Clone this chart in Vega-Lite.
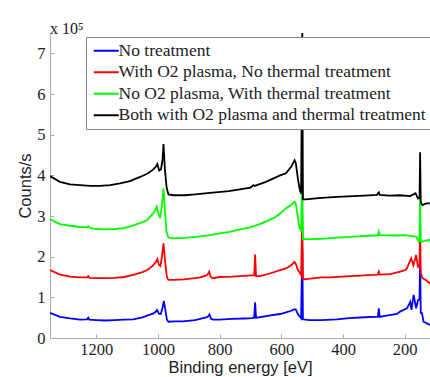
{
  "$schema": "https://vega.github.io/schema/vega-lite/v6.json",
  "width": 380,
  "height": 305,
  "autosize": {"type": "none"},
  "padding": {"left": 50, "top": 33, "right": 0, "bottom": 39},
  "background": "white",
  "title": {"text": "x 10⁵", "anchor": "start", "frame": "group", "offset": -4, "font": "Liberation Serif", "fontSize": 16, "fontWeight": "normal", "color": "#222"},
  "data": {"values": [
    {"sample":"No treatment","energy":1350,"counts":0.62},{"sample":"No treatment","energy":1318,"counts":0.52},{"sample":"No treatment","energy":1285,"counts":0.48},{"sample":"No treatment","energy":1253,"counts":0.45},{"sample":"No treatment","energy":1230,"counts":0.46},{"sample":"No treatment","energy":1226,"counts":0.50},{"sample":"No treatment","energy":1222,"counts":0.45},{"sample":"No treatment","energy":1200,"counts":0.44},{"sample":"No treatment","energy":1170,"counts":0.43},{"sample":"No treatment","energy":1140,"counts":0.44},{"sample":"No treatment","energy":1110,"counts":0.45},{"sample":"No treatment","energy":1080,"counts":0.46},{"sample":"No treatment","energy":1050,"counts":0.51},{"sample":"No treatment","energy":1035,"counts":0.55},{"sample":"No treatment","energy":1016,"counts":0.60},{"sample":"No treatment","energy":1008,"counts":0.64},{"sample":"No treatment","energy":1003,"counts":0.69},{"sample":"No treatment","energy":997,"counts":0.60},{"sample":"No treatment","energy":991,"counts":0.59},{"sample":"No treatment","energy":986,"counts":0.72},{"sample":"No treatment","energy":981,"counts":0.91},{"sample":"No treatment","energy":976,"counts":0.70},{"sample":"No treatment","energy":971,"counts":0.45},{"sample":"No treatment","energy":966,"counts":0.40},{"sample":"No treatment","energy":945,"counts":0.41},{"sample":"No treatment","energy":919,"counts":0.41},{"sample":"No treatment","energy":880,"counts":0.44},{"sample":"No treatment","energy":863,"counts":0.47},{"sample":"No treatment","energy":854,"counts":0.49},{"sample":"No treatment","energy":845,"counts":0.50},{"sample":"No treatment","energy":838,"counts":0.53},{"sample":"No treatment","energy":833,"counts":0.58},{"sample":"No treatment","energy":828,"counts":0.47},{"sample":"No treatment","energy":821,"counts":0.45},{"sample":"No treatment","energy":800,"counts":0.45},{"sample":"No treatment","energy":760,"counts":0.47},{"sample":"No treatment","energy":720,"counts":0.48},{"sample":"No treatment","energy":695,"counts":0.49},{"sample":"No treatment","energy":688,"counts":0.50},{"sample":"No treatment","energy":685,"counts":0.88},{"sample":"No treatment","energy":682,"counts":0.50},{"sample":"No treatment","energy":670,"counts":0.51},{"sample":"No treatment","energy":640,"counts":0.55},{"sample":"No treatment","energy":604,"counts":0.59},{"sample":"No treatment","energy":585,"counts":0.63},{"sample":"No treatment","energy":568,"counts":0.67},{"sample":"No treatment","energy":557,"counts":0.71},{"sample":"No treatment","energy":553,"counts":0.70},{"sample":"No treatment","energy":546,"counts":0.58},{"sample":"No treatment","energy":536,"counts":0.48},{"sample":"No treatment","energy":532,"counts":2.2},{"sample":"No treatment","energy":530,"counts":0.46},{"sample":"No treatment","energy":510,"counts":0.44},{"sample":"No treatment","energy":470,"counts":0.44},{"sample":"No treatment","energy":420,"counts":0.46},{"sample":"No treatment","energy":380,"counts":0.49},{"sample":"No treatment","energy":330,"counts":0.51},{"sample":"No treatment","energy":300,"counts":0.52},{"sample":"No treatment","energy":287,"counts":0.52},{"sample":"No treatment","energy":284,"counts":0.73},{"sample":"No treatment","energy":281,"counts":0.52},{"sample":"No treatment","energy":250,"counts":0.56},{"sample":"No treatment","energy":225,"counts":0.59},{"sample":"No treatment","energy":215,"counts":0.65},{"sample":"No treatment","energy":193,"counts":0.73},{"sample":"No treatment","energy":182,"counts":0.89},{"sample":"No treatment","energy":178,"counts":0.69},{"sample":"No treatment","energy":171,"counts":1.06},{"sample":"No treatment","energy":163,"counts":0.73},{"sample":"No treatment","energy":157,"counts":0.93},{"sample":"No treatment","energy":152,"counts":0.95},{"sample":"No treatment","energy":150,"counts":2.0},{"sample":"No treatment","energy":148,"counts":0.62},{"sample":"No treatment","energy":144,"counts":0.61},{"sample":"No treatment","energy":139,"counts":0.40},{"sample":"No treatment","energy":128,"counts":0.36},{"sample":"No treatment","energy":118,"counts":0.32},

    {"sample":"With O2 plasma, No thermal treatment","energy":1350,"counts":1.67},{"sample":"With O2 plasma, No thermal treatment","energy":1318,"counts":1.56},{"sample":"With O2 plasma, No thermal treatment","energy":1285,"counts":1.51},{"sample":"With O2 plasma, No thermal treatment","energy":1253,"counts":1.49},{"sample":"With O2 plasma, No thermal treatment","energy":1230,"counts":1.49},{"sample":"With O2 plasma, No thermal treatment","energy":1226,"counts":1.52},{"sample":"With O2 plasma, No thermal treatment","energy":1222,"counts":1.48},{"sample":"With O2 plasma, No thermal treatment","energy":1200,"counts":1.47},{"sample":"With O2 plasma, No thermal treatment","energy":1170,"counts":1.47},{"sample":"With O2 plasma, No thermal treatment","energy":1140,"counts":1.48},{"sample":"With O2 plasma, No thermal treatment","energy":1110,"counts":1.50},{"sample":"With O2 plasma, No thermal treatment","energy":1080,"counts":1.55},{"sample":"With O2 plasma, No thermal treatment","energy":1050,"counts":1.62},{"sample":"With O2 plasma, No thermal treatment","energy":1035,"counts":1.67},{"sample":"With O2 plasma, No thermal treatment","energy":1016,"counts":1.78},{"sample":"With O2 plasma, No thermal treatment","energy":1006,"counts":1.88},{"sample":"With O2 plasma, No thermal treatment","energy":1002,"counts":1.94},{"sample":"With O2 plasma, No thermal treatment","energy":997,"counts":1.80},{"sample":"With O2 plasma, No thermal treatment","energy":992,"counts":1.77},{"sample":"With O2 plasma, No thermal treatment","energy":987,"counts":2.0},{"sample":"With O2 plasma, No thermal treatment","energy":982,"counts":2.33},{"sample":"With O2 plasma, No thermal treatment","energy":977,"counts":1.9},{"sample":"With O2 plasma, No thermal treatment","energy":971,"counts":1.5},{"sample":"With O2 plasma, No thermal treatment","energy":966,"counts":1.43},{"sample":"With O2 plasma, No thermal treatment","energy":945,"counts":1.43},{"sample":"With O2 plasma, No thermal treatment","energy":915,"counts":1.44},{"sample":"With O2 plasma, No thermal treatment","energy":880,"counts":1.47},{"sample":"With O2 plasma, No thermal treatment","energy":863,"counts":1.49},{"sample":"With O2 plasma, No thermal treatment","energy":850,"counts":1.52},{"sample":"With O2 plasma, No thermal treatment","energy":840,"counts":1.55},{"sample":"With O2 plasma, No thermal treatment","energy":834,"counts":1.63},{"sample":"With O2 plasma, No thermal treatment","energy":829,"counts":1.50},{"sample":"With O2 plasma, No thermal treatment","energy":822,"counts":1.47},{"sample":"With O2 plasma, No thermal treatment","energy":800,"counts":1.50},{"sample":"With O2 plasma, No thermal treatment","energy":760,"counts":1.51},{"sample":"With O2 plasma, No thermal treatment","energy":720,"counts":1.53},{"sample":"With O2 plasma, No thermal treatment","energy":700,"counts":1.54},{"sample":"With O2 plasma, No thermal treatment","energy":688,"counts":1.54},{"sample":"With O2 plasma, No thermal treatment","energy":685,"counts":2.06},{"sample":"With O2 plasma, No thermal treatment","energy":682,"counts":1.52},{"sample":"With O2 plasma, No thermal treatment","energy":670,"counts":1.52},{"sample":"With O2 plasma, No thermal treatment","energy":640,"counts":1.58},{"sample":"With O2 plasma, No thermal treatment","energy":604,"counts":1.67},{"sample":"With O2 plasma, No thermal treatment","energy":585,"counts":1.71},{"sample":"With O2 plasma, No thermal treatment","energy":568,"counts":1.79},{"sample":"With O2 plasma, No thermal treatment","energy":557,"counts":1.87},{"sample":"With O2 plasma, No thermal treatment","energy":553,"counts":1.82},{"sample":"With O2 plasma, No thermal treatment","energy":546,"counts":1.67},{"sample":"With O2 plasma, No thermal treatment","energy":536,"counts":1.55},{"sample":"With O2 plasma, No thermal treatment","energy":532,"counts":3.0},{"sample":"With O2 plasma, No thermal treatment","energy":530,"counts":1.44},{"sample":"With O2 plasma, No thermal treatment","energy":520,"counts":1.45},{"sample":"With O2 plasma, No thermal treatment","energy":470,"counts":1.49},{"sample":"With O2 plasma, No thermal treatment","energy":440,"counts":1.49},{"sample":"With O2 plasma, No thermal treatment","energy":377,"counts":1.52},{"sample":"With O2 plasma, No thermal treatment","energy":300,"counts":1.55},{"sample":"With O2 plasma, No thermal treatment","energy":287,"counts":1.56},{"sample":"With O2 plasma, No thermal treatment","energy":284,"counts":1.63},{"sample":"With O2 plasma, No thermal treatment","energy":281,"counts":1.56},{"sample":"With O2 plasma, No thermal treatment","energy":247,"counts":1.57},{"sample":"With O2 plasma, No thermal treatment","energy":215,"counts":1.63},{"sample":"With O2 plasma, No thermal treatment","energy":199,"counts":1.67},{"sample":"With O2 plasma, No thermal treatment","energy":193,"counts":1.71},{"sample":"With O2 plasma, No thermal treatment","energy":179,"counts":1.96},{"sample":"With O2 plasma, No thermal treatment","energy":172,"counts":1.79},{"sample":"With O2 plasma, No thermal treatment","energy":163,"counts":2.04},{"sample":"With O2 plasma, No thermal treatment","energy":157,"counts":1.75},{"sample":"With O2 plasma, No thermal treatment","energy":152,"counts":1.80},{"sample":"With O2 plasma, No thermal treatment","energy":150,"counts":2.8},{"sample":"With O2 plasma, No thermal treatment","energy":148,"counts":1.60},{"sample":"With O2 plasma, No thermal treatment","energy":142,"counts":1.47},{"sample":"With O2 plasma, No thermal treatment","energy":133,"counts":1.43},{"sample":"With O2 plasma, No thermal treatment","energy":118,"counts":1.34},

    {"sample":"No O2 plasma, With thermal treatment","energy":1350,"counts":2.92},{"sample":"No O2 plasma, With thermal treatment","energy":1318,"counts":2.80},{"sample":"No O2 plasma, With thermal treatment","energy":1285,"counts":2.76},{"sample":"No O2 plasma, With thermal treatment","energy":1253,"counts":2.73},{"sample":"No O2 plasma, With thermal treatment","energy":1230,"counts":2.72},{"sample":"No O2 plasma, With thermal treatment","energy":1226,"counts":2.75},{"sample":"No O2 plasma, With thermal treatment","energy":1222,"counts":2.71},{"sample":"No O2 plasma, With thermal treatment","energy":1200,"counts":2.68},{"sample":"No O2 plasma, With thermal treatment","energy":1170,"counts":2.67},{"sample":"No O2 plasma, With thermal treatment","energy":1140,"counts":2.68},{"sample":"No O2 plasma, With thermal treatment","energy":1110,"counts":2.70},{"sample":"No O2 plasma, With thermal treatment","energy":1080,"counts":2.77},{"sample":"No O2 plasma, With thermal treatment","energy":1050,"counts":2.85},{"sample":"No O2 plasma, With thermal treatment","energy":1035,"counts":2.90},{"sample":"No O2 plasma, With thermal treatment","energy":1016,"counts":3.06},{"sample":"No O2 plasma, With thermal treatment","energy":1010,"counts":3.12},{"sample":"No O2 plasma, With thermal treatment","energy":1004,"counts":3.23},{"sample":"No O2 plasma, With thermal treatment","energy":1000,"counts":3.10},{"sample":"No O2 plasma, With thermal treatment","energy":993,"counts":2.95},{"sample":"No O2 plasma, With thermal treatment","energy":988,"counts":3.2},{"sample":"No O2 plasma, With thermal treatment","energy":982,"counts":3.68},{"sample":"No O2 plasma, With thermal treatment","energy":978,"counts":3.2},{"sample":"No O2 plasma, With thermal treatment","energy":972,"counts":2.6},{"sample":"No O2 plasma, With thermal treatment","energy":966,"counts":2.47},{"sample":"No O2 plasma, With thermal treatment","energy":950,"counts":2.45},{"sample":"No O2 plasma, With thermal treatment","energy":912,"counts":2.46},{"sample":"No O2 plasma, With thermal treatment","energy":863,"counts":2.50},{"sample":"No O2 plasma, With thermal treatment","energy":831,"counts":2.53},{"sample":"No O2 plasma, With thermal treatment","energy":800,"counts":2.57},{"sample":"No O2 plasma, With thermal treatment","energy":768,"counts":2.61},{"sample":"No O2 plasma, With thermal treatment","energy":734,"counts":2.67},{"sample":"No O2 plasma, With thermal treatment","energy":702,"counts":2.72},{"sample":"No O2 plasma, With thermal treatment","energy":670,"counts":2.80},{"sample":"No O2 plasma, With thermal treatment","energy":640,"counts":2.90},{"sample":"No O2 plasma, With thermal treatment","energy":620,"counts":2.97},{"sample":"No O2 plasma, With thermal treatment","energy":604,"counts":3.06},{"sample":"No O2 plasma, With thermal treatment","energy":585,"counts":3.19},{"sample":"No O2 plasma, With thermal treatment","energy":568,"counts":3.27},{"sample":"No O2 plasma, With thermal treatment","energy":557,"counts":3.35},{"sample":"No O2 plasma, With thermal treatment","energy":553,"counts":3.30},{"sample":"No O2 plasma, With thermal treatment","energy":548,"counts":3.05},{"sample":"No O2 plasma, With thermal treatment","energy":543,"counts":2.78},{"sample":"No O2 plasma, With thermal treatment","energy":536,"counts":2.62},{"sample":"No O2 plasma, With thermal treatment","energy":532,"counts":4.0},{"sample":"No O2 plasma, With thermal treatment","energy":530,"counts":2.43},{"sample":"No O2 plasma, With thermal treatment","energy":500,"counts":2.43},{"sample":"No O2 plasma, With thermal treatment","energy":470,"counts":2.44},{"sample":"No O2 plasma, With thermal treatment","energy":420,"counts":2.47},{"sample":"No O2 plasma, With thermal treatment","energy":350,"counts":2.50},{"sample":"No O2 plasma, With thermal treatment","energy":300,"counts":2.52},{"sample":"No O2 plasma, With thermal treatment","energy":287,"counts":2.52},{"sample":"No O2 plasma, With thermal treatment","energy":284,"counts":2.61},{"sample":"No O2 plasma, With thermal treatment","energy":281,"counts":2.53},{"sample":"No O2 plasma, With thermal treatment","energy":230,"counts":2.52},{"sample":"No O2 plasma, With thermal treatment","energy":200,"counts":2.53},{"sample":"No O2 plasma, With thermal treatment","energy":170,"counts":2.50},{"sample":"No O2 plasma, With thermal treatment","energy":162,"counts":2.49},{"sample":"No O2 plasma, With thermal treatment","energy":155,"counts":2.37},{"sample":"No O2 plasma, With thermal treatment","energy":152,"counts":2.40},{"sample":"No O2 plasma, With thermal treatment","energy":150,"counts":3.5},{"sample":"No O2 plasma, With thermal treatment","energy":148,"counts":2.38},{"sample":"No O2 plasma, With thermal treatment","energy":142,"counts":2.37},{"sample":"No O2 plasma, With thermal treatment","energy":130,"counts":2.40},{"sample":"No O2 plasma, With thermal treatment","energy":118,"counts":2.41},

    {"sample":"Both with O2 plasma and thermal treatment","energy":1350,"counts":3.98},{"sample":"Both with O2 plasma and thermal treatment","energy":1318,"counts":3.84},{"sample":"Both with O2 plasma and thermal treatment","energy":1285,"counts":3.78},{"sample":"Both with O2 plasma and thermal treatment","energy":1253,"counts":3.76},{"sample":"Both with O2 plasma and thermal treatment","energy":1220,"counts":3.74},{"sample":"Both with O2 plasma and thermal treatment","energy":1188,"counts":3.74},{"sample":"Both with O2 plasma and thermal treatment","energy":1155,"counts":3.76},{"sample":"Both with O2 plasma and thermal treatment","energy":1123,"counts":3.80},{"sample":"Both with O2 plasma and thermal treatment","energy":1091,"counts":3.86},{"sample":"Both with O2 plasma and thermal treatment","energy":1058,"counts":3.96},{"sample":"Both with O2 plasma and thermal treatment","energy":1032,"counts":4.05},{"sample":"Both with O2 plasma and thermal treatment","energy":1016,"counts":4.14},{"sample":"Both with O2 plasma and thermal treatment","energy":1008,"counts":4.20},{"sample":"Both with O2 plasma and thermal treatment","energy":1002,"counts":4.28},{"sample":"Both with O2 plasma and thermal treatment","energy":996,"counts":4.12},{"sample":"Both with O2 plasma and thermal treatment","energy":990,"counts":4.15},{"sample":"Both with O2 plasma and thermal treatment","energy":985,"counts":4.4},{"sample":"Both with O2 plasma and thermal treatment","energy":982,"counts":4.77},{"sample":"Both with O2 plasma and thermal treatment","energy":978,"counts":4.2},{"sample":"Both with O2 plasma and thermal treatment","energy":972,"counts":3.7},{"sample":"Both with O2 plasma and thermal treatment","energy":966,"counts":3.53},{"sample":"Both with O2 plasma and thermal treatment","energy":950,"counts":3.51},{"sample":"Both with O2 plasma and thermal treatment","energy":912,"counts":3.51},{"sample":"Both with O2 plasma and thermal treatment","energy":880,"counts":3.53},{"sample":"Both with O2 plasma and thermal treatment","energy":831,"counts":3.57},{"sample":"Both with O2 plasma and thermal treatment","energy":770,"counts":3.61},{"sample":"Both with O2 plasma and thermal treatment","energy":700,"counts":3.70},{"sample":"Both with O2 plasma and thermal treatment","energy":690,"counts":3.76},{"sample":"Both with O2 plasma and thermal treatment","energy":686,"counts":3.74},{"sample":"Both with O2 plasma and thermal treatment","energy":650,"counts":3.84},{"sample":"Both with O2 plasma and thermal treatment","energy":604,"counts":4.0},{"sample":"Both with O2 plasma and thermal treatment","energy":585,"counts":4.05},{"sample":"Both with O2 plasma and thermal treatment","energy":568,"counts":4.21},{"sample":"Both with O2 plasma and thermal treatment","energy":557,"counts":4.37},{"sample":"Both with O2 plasma and thermal treatment","energy":553,"counts":4.30},{"sample":"Both with O2 plasma and thermal treatment","energy":546,"counts":3.9},{"sample":"Both with O2 plasma and thermal treatment","energy":540,"counts":3.64},{"sample":"Both with O2 plasma and thermal treatment","energy":536,"counts":3.55},{"sample":"Both with O2 plasma and thermal treatment","energy":532,"counts":7.5},{"sample":"Both with O2 plasma and thermal treatment","energy":530,"counts":3.41},{"sample":"Both with O2 plasma and thermal treatment","energy":520,"counts":3.41},{"sample":"Both with O2 plasma and thermal treatment","energy":480,"counts":3.44},{"sample":"Both with O2 plasma and thermal treatment","energy":420,"counts":3.47},{"sample":"Both with O2 plasma and thermal treatment","energy":330,"counts":3.50},{"sample":"Both with O2 plasma and thermal treatment","energy":290,"counts":3.52},{"sample":"Both with O2 plasma and thermal treatment","energy":284,"counts":3.58},{"sample":"Both with O2 plasma and thermal treatment","energy":281,"counts":3.52},{"sample":"Both with O2 plasma and thermal treatment","energy":250,"counts":3.50},{"sample":"Both with O2 plasma and thermal treatment","energy":215,"counts":3.51},{"sample":"Both with O2 plasma and thermal treatment","energy":182,"counts":3.49},{"sample":"Both with O2 plasma and thermal treatment","energy":165,"counts":3.56},{"sample":"Both with O2 plasma and thermal treatment","energy":157,"counts":3.43},{"sample":"Both with O2 plasma and thermal treatment","energy":152,"counts":3.45},{"sample":"Both with O2 plasma and thermal treatment","energy":150,"counts":4.57},{"sample":"Both with O2 plasma and thermal treatment","energy":148,"counts":3.35},{"sample":"Both with O2 plasma and thermal treatment","energy":143,"counts":3.27},{"sample":"Both with O2 plasma and thermal treatment","energy":130,"counts":3.31},{"sample":"Both with O2 plasma and thermal treatment","energy":118,"counts":3.31}
  ]},
  "mark": {"type": "line", "strokeWidth": 1.8, "clip": true},
  "encoding": {
    "x": {
      "field": "energy", "type": "quantitative",
      "scale": {"domain": [1350, 118], "nice": false, "zero": false},
      "axis": {"values": [1200, 1000, 800, 600, 400, 200], "format": "d", "title": "Binding energy [eV]", "labelPadding": 7, "titlePadding": 2}
    },
    "y": {
      "field": "counts", "type": "quantitative",
      "scale": {"domain": [0, 7.5], "nice": false, "zero": true},
      "axis": {"values": [0, 1, 2, 3, 4, 5, 6, 7], "format": "d", "title": "Counts/s", "labelPadding": 9, "titlePadding": 3}
    },
    "color": {
      "field": "sample", "type": "nominal",
      "scale": {
        "domain": ["No treatment", "With O2 plasma, No thermal treatment", "No O2 plasma, With thermal treatment", "Both with O2 plasma and thermal treatment"],
        "range": ["#0000ff", "#ff0000", "#00ff00", "#000000"]
      },
      "legend": {
        "orient": "none", "legendX": 36, "legendY": 4, "title": null,
        "symbolType": "M-2.5,0H2.5", "symbolSize": 100, "symbolStrokeWidth": 2, "symbolOffset": 6.5,
        "labelFont": "Liberation Serif", "labelFontSize": 17.5, "labelColor": "#222", "labelOffset": 3.5,
        "fillColor": "white", "strokeColor": "#888", "padding": 5, "rowPadding": 2.5, "labelLimit": 400
      }
    }
  },
  "config": {
    "view": {"stroke": null},
    "axis": {
      "grid": false, "domainColor": "#aaa", "tickColor": "#aaa", "tickSize": -4,
      "labelFont": "Liberation Serif", "labelFontSize": 16.5, "labelColor": "#222",
      "titleFont": "Liberation Sans", "titleFontSize": 16.5, "titleFontWeight": "normal", "titleColor": "#222",
      "labelFlush": false, "labelOverlap": false
    }
  }
}
